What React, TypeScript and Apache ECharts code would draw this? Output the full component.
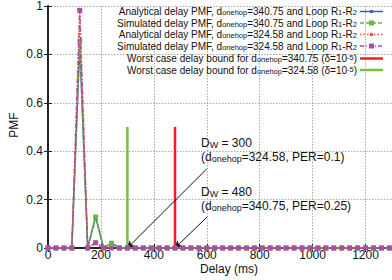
import React, { useEffect, useRef } from "react";
import * as echarts from "echarts";

const delays = [0, 30, 60, 90, 120, 150, 180, 210, 240, 270, 300, 330, 360, 390, 420, 450, 480, 510, 540, 570, 600, 630, 660, 690, 720, 750, 780, 810, 840, 870, 900, 930, 960, 990, 1020, 1050, 1080, 1110, 1140, 1170, 1200, 1230, 1260, 1290];
const analytical34075 = [0, 0, 0, 0, 0.84, 0, 0.13, 0, 0.02, 0, 0, 0, 0, 0, 0, 0, 0, 0, 0, 0, 0, 0, 0, 0, 0, 0, 0, 0, 0, 0, 0, 0, 0, 0, 0, 0, 0, 0, 0, 0, 0, 0, 0, 0];
const simulated34075 = [0, 0, 0, 0, 0.855, 0, 0.128, 0, 0.02, 0, 0, 0, 0, 0, 0, 0, 0, 0, 0, 0, 0, 0, 0, 0, 0, 0, 0, 0, 0, 0, 0, 0, 0, 0, 0, 0, 0, 0, 0, 0, 0, 0, 0, 0];
const analytical32458 = [0, 0, 0, 0, 0.98, 0, 0.018, 0, 0, 0, 0, 0, 0, 0, 0, 0, 0, 0, 0, 0, 0, 0, 0, 0, 0, 0, 0, 0, 0, 0, 0, 0, 0, 0, 0, 0, 0, 0, 0, 0, 0, 0, 0, 0];
const simulated32458 = [0, 0, 0, 0, 0.982, 0, 0.022, 0, 0, 0, 0, 0, 0, 0, 0, 0, 0, 0, 0, 0, 0, 0, 0, 0, 0, 0, 0, 0, 0, 0, 0, 0, 0, 0, 0, 0, 0, 0, 0, 0, 0, 0, 0, 0];
const boundDelays = [480, 300];
const boundHeight = 0.5;
const arrowStarts = [[600, 0.127], [600, 0.327]];

const legendLabels = [
  "Analytical delay PMF, d{s|onehop}=340.75 and Loop R{s|1}-R{s|2}",
  "Simulated delay PMF, d{s|onehop}=340.75 and Loop R{s|1}-R{s|2}",
  "Analytical delay PMF, d{s|onehop}=324.58 and Loop R{s|1}-R{s|2}",
  "Simulated delay PMF, d{s|onehop}=324.58 and Loop R{s|1}-R{s|2}",
  "Worst case delay bound for d{s|onehop}=340.75 (δ=10{p|-5})",
  "Worst case delay bound for d{s|onehop}=324.58 (δ=10{p|-5})",
];

const BLUE = "#3a5fb0";
const GREEN = "#66bb33";
const ORANGE = "#ee5522";
const PINK = "#b04aa8";
const RED = "#e82222";
const GREEN2 = "#77c044";
const FONT = "Liberation Sans, Arial, sans-serif";

export default function App() {
  const ref = useRef<HTMLDivElement>(null);
  useEffect(() => {
    const chart = echarts.init(ref.current!, null, { renderer: "svg" });
    const pairs = (ys: number[]) => delays.map((d, i) => [d, ys[i]]);

    const legRich = {
      n: { fontSize: 10, lineHeight: 13, fontFamily: FONT, color: "#111" },
      s: { fontSize: 7.5, lineHeight: 6, verticalAlign: "bottom", fontFamily: FONT, color: "#111" },
      p: { fontSize: 7.5, lineHeight: 6, verticalAlign: "top", fontFamily: FONT, color: "#111" },
    };
    const rowY = [11.5, 23, 34.5, 46, 58.5, 70];
    const sampleStyles = [
      { color: BLUE, dash: null as any, width: 1.5, marker: "circle" },
      { color: GREEN, dash: [4, 2], width: 1.5, marker: "rect" },
      { color: ORANGE, dash: [1.5, 2], width: 1.5, marker: "circle" },
      { color: PINK, dash: [4, 2, 1, 2], width: 1.5, marker: "rect" },
      { color: RED, dash: null, width: 2.5, marker: null },
      { color: GREEN2, dash: null, width: 2.5, marker: null },
    ];
    const legendGraphics: any[] = [];
    legendLabels.forEach((lab, i) => {
      legendGraphics.push({
        type: "text",
        x: 357,
        y: rowY[i],
        style: {
          text: lab,
          rich: legRich,
          fontSize: 10,
          fontFamily: FONT,
          fill: "#111",
          align: "right",
          verticalAlign: "middle",
        },
        z: 100,
      });
      const st = sampleStyles[i];
      legendGraphics.push({
        type: "line",
        shape: { x1: 360, y1: rowY[i], x2: 383, y2: rowY[i] },
        style: { stroke: st.color, lineWidth: st.width, lineDash: st.dash },
        z: 100,
      });
      if (st.marker === "circle") {
        legendGraphics.push({
          type: "circle",
          shape: { cx: 371.5, cy: rowY[i], r: 1.8 },
          style: { fill: st.color },
          z: 101,
        });
      } else if (st.marker === "rect") {
        legendGraphics.push({
          type: "rect",
          shape: { x: 369, y: rowY[i] - 2.5, width: 5, height: 5 },
          style: { fill: st.color },
          z: 101,
        });
      }
    });

    const annRich = {
      n: { fontSize: 12, lineHeight: 15, fontFamily: FONT, color: "#111" },
      s: { fontSize: 9, lineHeight: 7, verticalAlign: "bottom", fontFamily: FONT, color: "#111" },
    };
    const annotations = [
      { y: 143, text: "D{s|W} = 300" },
      { y: 157, text: "(d{s|onehop}=324.58, PER=0.1)" },
      { y: 192, text: "D{s|W} = 480" },
      { y: 206, text: "(d{s|onehop}=340.75, PER=0.25)" },
    ];
    const annGraphics = annotations.map((a) => ({
      type: "text",
      x: 201,
      y: a.y,
      style: {
        text: a.text,
        rich: annRich,
        fontSize: 12,
        fontFamily: FONT,
        fill: "#111",
        align: "left",
        verticalAlign: "middle",
      },
      z: 100,
    }));

    const lineSeries = (name: string, ys: number[], color: string, type: any, symbol: string, size: number, z: number) => ({
      name,
      type: "line",
      data: pairs(ys),
      symbol,
      symbolSize: size,
      showSymbol: true,
      showAllSymbol: true,
      lineStyle: { color, width: 1.5, type },
      itemStyle: { color },
      z,
      silent: true,
    });

    chart.setOption({
      animation: false,
      grid: { left: 48, top: 3, width: 345, height: 245, containLabel: false },
      xAxis: [
        {
          type: "value",
          min: 0,
          max: 1300,
          interval: 200,
          axisLine: { show: true, lineStyle: { color: "#222", width: 2 } },
          axisTick: { show: true, inside: true, length: 4, lineStyle: { color: "#222" } },
          axisLabel: {
            margin: 1,
            fontSize: 12,
            lineHeight: 12,
            fontFamily: FONT,
            color: "#111",
            showMaxLabel: false,
            formatter: (v: number) => String(v),
          },
          splitLine: { show: true, lineStyle: { color: "#aaa", type: [1.5, 1.5], width: 1 } },
        },
        {
          type: "value",
          position: "top",
          min: 0,
          max: 1300,
          interval: 200,
          axisLine: { show: true, lineStyle: { color: "#222", width: 2 } },
          axisTick: { show: true, inside: true, length: 4, lineStyle: { color: "#222" } },
          axisLabel: { show: false },
          splitLine: { show: false },
        },
      ],
      yAxis: [
        {
          type: "value",
          min: 0,
          max: 1,
          interval: 0.2,
          axisLine: { show: true, lineStyle: { color: "#222", width: 2 } },
          axisTick: { show: true, inside: true, length: 4, lineStyle: { color: "#222" } },
          axisLabel: { margin: 5, fontSize: 12, fontFamily: FONT, color: "#111" },
          splitLine: { show: true, lineStyle: { color: "#aaa", type: [1.5, 1.5], width: 1 } },
        },
        {
          type: "value",
          position: "right",
          min: 0,
          max: 1,
          interval: 0.2,
          axisLine: { show: false },
          axisTick: { show: true, inside: true, length: 4, lineStyle: { color: "#222" } },
          axisLabel: { show: false },
          splitLine: { show: false },
        },
      ],
      series: [
        {
          name: "bound340",
          type: "line",
          data: [[boundDelays[0], 0], [boundDelays[0], boundHeight]],
          symbol: "none",
          lineStyle: { color: RED, width: 2.5 },
          z: 3,
          silent: true,
          markLine: {
            silent: true,
            symbol: ["none", "arrow"],
            symbolSize: [6, 7],
            label: { show: false },
            lineStyle: { color: "#111", width: 1, type: "solid" },
            data: [
              [{ coord: arrowStarts[0] }, { coord: [boundDelays[0], 0] }],
              [{ coord: arrowStarts[1] }, { coord: [boundDelays[1], 0] }],
            ],
          },
        },
        {
          name: "bound324",
          type: "line",
          data: [[boundDelays[1], 0], [boundDelays[1], boundHeight]],
          symbol: "none",
          lineStyle: { color: GREEN2, width: 2.5 },
          z: 3,
          silent: true,
        },
        lineSeries("a340", analytical34075, BLUE, "solid", "circle", 3, 4),
        lineSeries("s340", simulated34075, GREEN, [4, 2], "rect", 5, 5),
        lineSeries("a324", analytical32458, ORANGE, [1.5, 2], "circle", 3, 6),
        lineSeries("s324", simulated32458, PINK, [4, 2, 1, 2], "rect", 5, 7),
      ],
      graphic: [
        ...legendGraphics,
        ...annGraphics,
        {
          type: "text",
          x: 14,
          y: 125,
          rotation: Math.PI / 2,
          style: { text: "PMF", fontSize: 12, fontFamily: FONT, fill: "#111", align: "center", verticalAlign: "middle" },
        },
        {
          type: "text",
          x: 229,
          y: 268.5,
          style: { text: "Delay (ms)", fontSize: 12, lineHeight: 12, fontFamily: FONT, fill: "#111", align: "center", verticalAlign: "middle" },
        },
      ],
    });
    return () => chart.dispose();
  }, []);
  return (
    <div
      ref={ref}
      style={{ position: "fixed", left: 0, top: 0, width: 392, height: 280, background: "#fff" }}
    />
  );
}
